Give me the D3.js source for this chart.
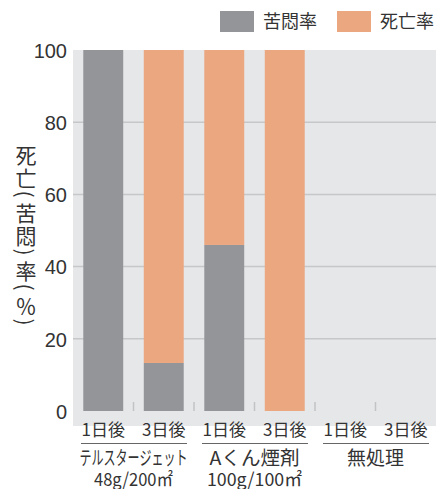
<!DOCTYPE html>
<html><head><meta charset="utf-8">
<script src="https://cdn.jsdelivr.net/npm/d3@7"></script>
<style>
html,body{margin:0;padding:0;background:#fff;}
svg{display:block;}
text{font-family:"Noto Sans CJK JP","Noto Sans",sans-serif;fill:#333;}
</style></head>
<body>
<svg id="c" width="436" height="489"></svg>
<script>
// data
const barKeys = ["t1","t3","a1","a3","n1","n3"];
const dayLabels = ["1日後","3日後","1日後","3日後","1日後","3日後"];
const groupNames = ["テルスタージェット","Aくん煙剤","無処理"];
const groupDoses = ["48g/200㎡","100g/100㎡",""];
const kumonRate = [100, 13.3, 46, 0, 0, 0];   // 苦悶率
const shiboRate = [0, 86.7, 54, 100, 0, 0];   // 死亡率
const seriesNames = ["苦悶率","死亡率"];
const seriesColors = ["#939598","#eba77f"];
const yTicks = [0,20,40,60,80,100];
const yTitle = "死亡(苦悶)率(％)";

const svg = d3.select("#c");
const x = d3.scaleBand().domain(barKeys).range([73,436]).paddingInner(0.34).paddingOuter(0.17);
const y = d3.scaleLinear().domain([0,100]).range([411,50]);

// background
svg.append("rect").attr("x",73).attr("y",y(100)).attr("width",436-73).attr("height",426-y(100)).attr("fill","#e6e7e8");

// gridlines
svg.append("g").selectAll("line").data(yTicks.filter(d=>d>0 && d<100)).join("line")
  .attr("x1",73).attr("x2",436).attr("y1",d=>y(d)).attr("y2",d=>y(d))
  .attr("stroke","#c6c7c9").attr("stroke-width",1.5);

// stacked bars
const rows = barKeys.map((k,i)=>({key:k, s0:kumonRate[i], s1:shiboRate[i]}));
const stack = d3.stack().keys(["s0","s1"])(rows);
svg.append("g").selectAll("g").data(stack).join("g").attr("fill",(d,i)=>seriesColors[i])
  .selectAll("rect").data(d=>d).join("rect")
  .attr("x",d=>x(d.data.key)).attr("width",x.bandwidth())
  .attr("y",d=>y(d[1])).attr("height",d=>y(d[0])-y(d[1]));

// small separator ticks at bottom
const step = x.step();
svg.append("g").selectAll("line").data(barKeys.slice(1)).join("line")
  .attr("x1",d=>x(d)-step*x.paddingInner()/2).attr("x2",d=>x(d)-step*x.paddingInner()/2)
  .attr("y1",402).attr("y2",411).attr("stroke","#c2c3c5").attr("stroke-width",1.5);

// y axis labels
const yAxis = d3.axisLeft(y).tickValues(yTicks).tickSize(0).tickPadding(0);
const ga = svg.append("g").attr("transform","translate(67,0)").call(yAxis);
ga.select(".domain").remove();
ga.selectAll("text").attr("font-size",20).attr("fill","#333")
  .style("font-family","'Liberation Sans',Arial,sans-serif").attr("dy","0.36em");

// y title, vertical, one glyph per line
const tg = svg.append("g").attr("font-size",21);
let cy = 142;
Array.from(yTitle).forEach(ch=>{
  const half = /[()]/.test(ch);
  const adv = half ? 12 : 23;
  const c = cy + adv/2;
  const t = tg.append("text").attr("x",26).attr("y",c).attr("text-anchor","middle")
    .attr("dominant-baseline","central").text(ch);
  if(half) t.attr("transform",`rotate(90,26,${c})`);
  cy += adv;
});

// day labels
svg.append("g").selectAll("text").data(barKeys).join("text")
  .attr("x",d=>x(d)+x.bandwidth()/2).attr("y",436).attr("text-anchor","middle")
  .attr("font-size",17).text((d,i)=>dayLabels[i]);

// group underlines and names
const nameLen = [108, 90, null];
const doseLen = [79, 95, null];
groupNames.forEach((g,gi)=>{
  const x0 = x(barKeys[gi*2]) - step*x.paddingInner()/2;
  const x1 = x0 + step*2;
  svg.append("line").attr("x1",x0+8).attr("x2",x1-7).attr("y1",443.5).attr("y2",443.5)
    .attr("stroke","#666").attr("stroke-width",1.2);
  const cx = (x0+x1)/2;
  const t = svg.append("text").attr("x",cx).attr("y",465).attr("text-anchor","middle")
    .attr("font-size",19).text(g);
  if(nameLen[gi]){ t.attr("textLength",nameLen[gi]).attr("lengthAdjust","spacingAndGlyphs"); }
  if(groupDoses[gi]){
    svg.append("text").attr("x",cx).attr("y",486).attr("text-anchor","middle")
      .attr("font-size",18).attr("textLength",doseLen[gi]).attr("lengthAdjust","spacingAndGlyphs")
      .text(groupDoses[gi]);
  }
});

// legend
const lg = svg.append("g");
const legX = [220,337];
seriesNames.forEach((n,i)=>{
  lg.append("rect").attr("x",legX[i]).attr("y",11).attr("width",34).attr("height",21).attr("fill",seriesColors[i]);
  lg.append("text").attr("x",legX[i]+43).attr("y",28).attr("font-size",18).text(n);
});
</script>
</body></html>
